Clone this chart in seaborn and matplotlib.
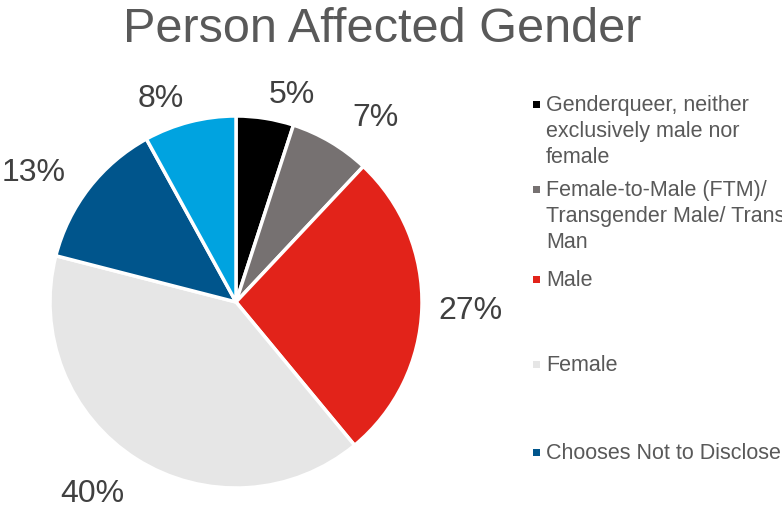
import matplotlib
matplotlib.use("Agg")
import matplotlib.pyplot as plt
from matplotlib.patches import Rectangle
import seaborn as sns

sns.set_theme(style="white")
plt.rcParams['font.family'] = ['Liberation Sans', 'DejaVu Sans']

# slice data, clockwise from 12 o'clock
categories = ["Genderqueer, neither\nexclusively male nor\nfemale",
              "Female-to-Male (FTM)/\nTransgender Male/ Trans\nMan",
              "Male",
              "Female",
              "Chooses Not to Disclose",
              "Male-to-Female (MTF)/\nTransgender Female/ Trans\nWoman"]
shares = [5, 7, 27, 40, 13, 8]
colors = ["#000000", "#767171", "#E2231A", "#E6E6E6", "#00558C", "#00A3E0"]

# nudges for the % labels (pixels, right / down), Excel-style outside placement
label_nudge = [(20, 21), (22, 15), (4, 2), (-20, -3), (-20, 12), (-18, 20)]

R_PX = 186  # pie radius in pixels
fig = plt.figure(figsize=(7.82, 5.08), dpi=100)
ax = fig.add_axes([50/782, 20/508, 2*R_PX/782, 2*R_PX/508])

wedges, texts, autotexts = ax.pie(shares, colors=colors, startangle=90, counterclock=False,
                                  radius=1, autopct='%1.0f%%', pctdistance=1.24,
                                  wedgeprops=dict(edgecolor="white", linewidth=2.5),
                                  textprops=dict(fontsize=23, color="#404040"))
for t, (dx, dy) in zip(autotexts, label_nudge):
    x, y = t.get_position()
    t.set_position((x + dx/R_PX, y - dy/R_PX))

ax.set_xlim(-1, 1)
ax.set_ylim(-1, 1)
ax.set_aspect("equal")
ax.axis("off")

fig.text(382/782, 1 - 42/508, "Person Affected Gender", ha="center", va="baseline",
         fontsize=35, color="#595959")

# legend, only the entries that fit in the frame
legend_tops = [105, 190, 280, 365, 453]
for lab, col, y in zip(categories[:5], colors[:5], legend_tops):
    fig.text(546/782, 1 - (y - 10)/508, lab, ha="left", va="top", fontsize=15.5,
             color="#595959", linespacing=1.3)
    fig.patches.append(Rectangle((533/782, 1 - (y + 3)/508), 7/782, 7/508,
                                 transform=fig.transFigure, facecolor=col, edgecolor="none"))

fig.savefig("out.png", dpi=100)
